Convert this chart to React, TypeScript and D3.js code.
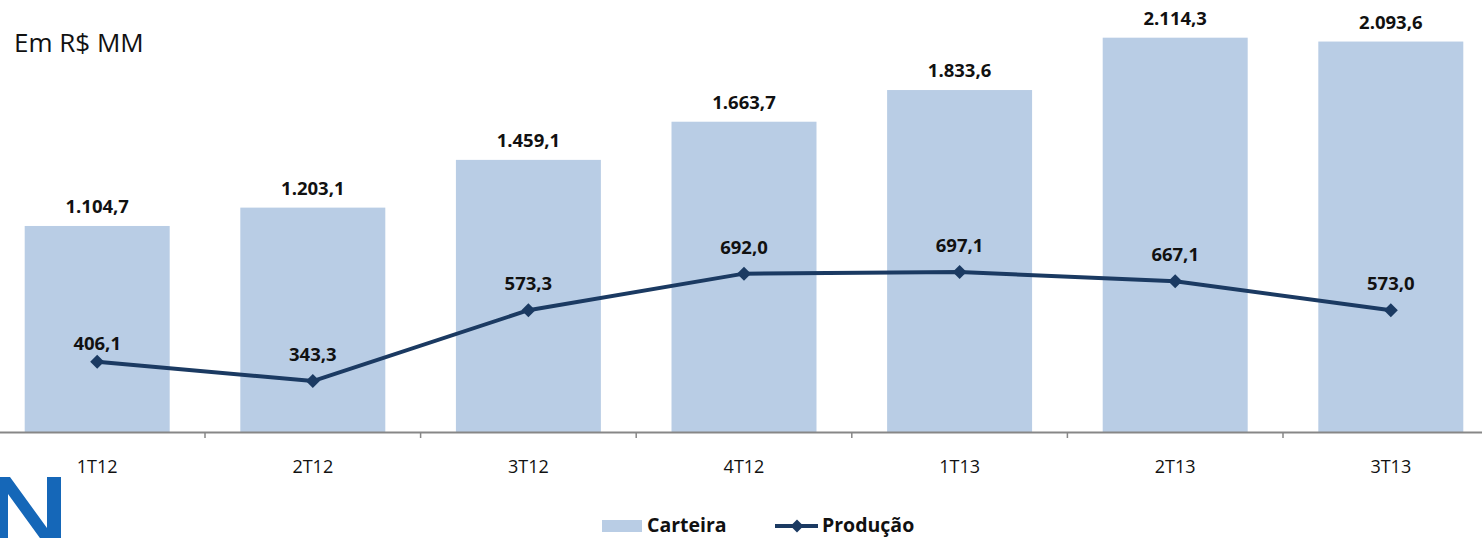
import * as d3 from "d3";

const categories = ["1T12", "2T12", "3T12", "4T12", "1T13", "2T13", "3T13"];
const carteira = [1104.7, 1203.1, 1459.1, 1663.7, 1833.6, 2114.3, 2093.6];
const producao = [406.1, 343.3, 573.3, 692.0, 697.1, 667.1, 573.0];

const width = 1482;
const height = 538;
const baseY = 432;

const ptBR = d3.formatLocale({ decimal: ",", thousands: ".", grouping: [3], currency: ["R$", ""] });
const fmt = ptBR.format(",.1f");

const barColor = "#b9cde5";
const lineColor = "#1b3a62";
const font = "'Open Sans', sans-serif";

function diamond(cx: number, cy: number, r: number) {
  return `M${cx},${cy - r}L${cx + r},${cy}L${cx},${cy + r}L${cx - r},${cy}Z`;
}

// cropped logo letter at bottom-left
const logoPath = "M-6,477L10,477L47,528L47,477L61,477L61,545L45,545L8,494L8,545L-6,545Z";

export default function App() {
  const x = d3.scaleBand<string>().domain(categories).range([-10.6, 1498.6]).paddingInner(0.3275).paddingOuter(0.16375);
  const step = x.step();
  const start = x.range()[0];
  const yBar = d3.scaleLinear().domain([0, 2500]).range([baseY, baseY - 2500 * 0.1865]);
  const yLine = d3.scaleLinear().domain([178, 1500]).range([baseY, baseY - 1322 * 0.3081]);
  const cx = (c: string) => (x(c) ?? 0) + x.bandwidth() / 2;

  const line = d3.line<number>()
    .x((_, i) => cx(categories[i]))
    .y((v) => yLine(v));

  const boundaries = d3.range(1, categories.length).map((i) => start + i * step);

  return (
    <svg width={width} height={height} style={{ position: "absolute", left: 0, top: 0, background: "#fff" }} fontFamily={font}>
      <text x={14} y={52} fontSize={26} fill="#111">Em R$ MM</text>

      {categories.map((c, i) => (
        <rect key={c} x={x(c)} y={yBar(carteira[i])} width={x.bandwidth()} height={baseY - yBar(carteira[i])} fill={barColor} />
      ))}

      {categories.map((c, i) => (
        <text key={`bl-${c}`} x={cx(c)} y={yBar(carteira[i]) - 13} textAnchor="middle" fontSize={18.5} fontWeight={700} fill="#111">{fmt(carteira[i])}</text>
      ))}

      <line x1={0} x2={width} y1={baseY + 0.5} y2={baseY + 0.5} stroke="#878787" strokeWidth={2} />
      {boundaries.map((b) => (
        <line key={b} x1={b} x2={b} y1={baseY} y2={baseY + 6} stroke="#878787" strokeWidth={1.5} />
      ))}

      {categories.map((c) => (
        <text key={`cat-${c}`} x={cx(c)} y={473} textAnchor="middle" fontSize={18} fill="#111">{c}</text>
      ))}

      <path d={line(producao) ?? ""} fill="none" stroke={lineColor} strokeWidth={4} strokeLinejoin="round" />
      {categories.map((c, i) => (
        <path key={`pt-${c}`} d={diamond(cx(c), yLine(producao[i]), 7)} fill={lineColor} />
      ))}
      {categories.map((c, i) => (
        <text key={`ll-${c}`} x={cx(c)} y={yLine(producao[i]) - (i === 0 ? 12 : 20)} textAnchor="middle" fontSize={18.5} fontWeight={700} fill="#111">{fmt(producao[i])}</text>
      ))}

      <path d={logoPath} fill="#1567b8" />

      <rect x={602} y={520} width={40} height={12} fill={barColor} />
      <text x={647} y={532} fontSize={19.5} fontWeight={700} fill="#111">Carteira</text>
      <line x1={775} x2={818} y1={526} y2={526} stroke={lineColor} strokeWidth={4} />
      <path d={diamond(797, 526, 6.5)} fill={lineColor} />
      <text x={822} y={532} fontSize={19.5} fontWeight={700} fill="#111">Produção</text>
    </svg>
  );
}
